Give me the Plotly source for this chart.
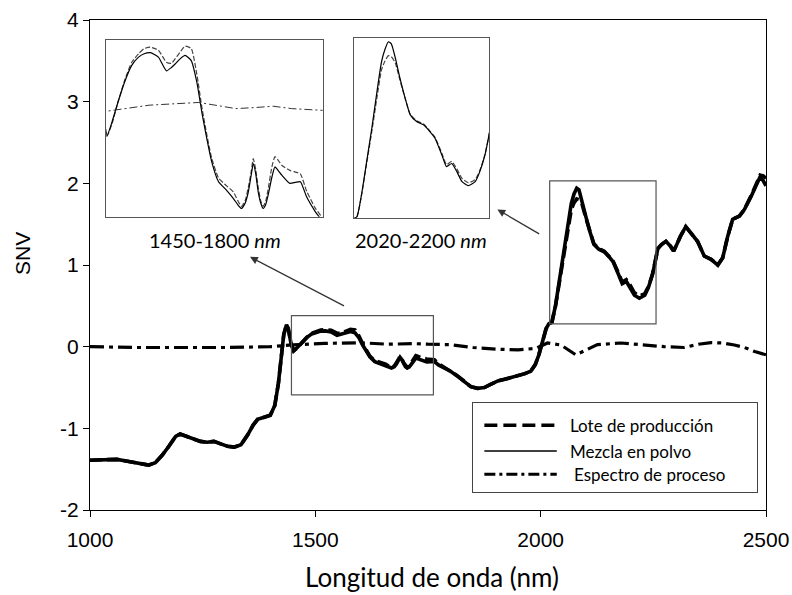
import plotly.graph_objects as go

# NIR spectra after SNV pre-treatment
wavelength = [
    1000, 1020, 1040, 1060, 1080, 1100, 1115, 1130, 1145, 1160,
    1175, 1190, 1200, 1215, 1230, 1245, 1260, 1275, 1290, 1305,
    1320, 1335, 1350, 1362, 1372, 1385, 1400, 1410, 1418, 1424,
    1430, 1436, 1440, 1446, 1452, 1460, 1470, 1481, 1492, 1503,
    1512, 1522, 1535, 1548, 1556, 1562, 1570, 1578, 1588, 1597,
    1605, 1613, 1621, 1632, 1645, 1656, 1663, 1669, 1675, 1680,
    1685, 1688, 1692, 1696, 1700, 1704, 1708, 1712, 1718, 1723,
    1728, 1734, 1747, 1756, 1764, 1774, 1788, 1800, 1815, 1830,
    1845, 1860, 1875, 1890, 1905, 1920, 1935, 1950, 1965, 1978,
    1988, 1996, 2005, 2012, 2018, 2025, 2033, 2042, 2051, 2060,
    2068, 2074, 2080, 2085, 2092, 2100, 2109, 2118, 2129, 2141,
    2152, 2161, 2173, 2181, 2190, 2199, 2208, 2219, 2231, 2239,
    2248, 2254, 2260, 2268, 2278, 2288, 2295, 2302, 2310, 2322,
    2333, 2348, 2363, 2378, 2393, 2404, 2415, 2426, 2441, 2452,
    2467, 2478, 2487, 2494, 2500,
]

mezcla_polvo = [
    -1.39, -1.39, -1.38, -1.38, -1.40, -1.42, -1.44, -1.45, -1.42, -1.33,
    -1.22, -1.10, -1.07, -1.10, -1.14, -1.16, -1.17, -1.16, -1.19, -1.22,
    -1.23, -1.20, -1.08, -0.96, -0.89, -0.87, -0.84, -0.72, -0.45, -0.15,
    0.15, 0.27, 0.22, 0.04, -0.05, -0.01, 0.05, 0.11, 0.156, 0.18,
    0.19, 0.193, 0.18, 0.14, 0.15, 0.16, 0.175, 0.185, 0.17, 0.107,
    0.02, -0.057, -0.125, -0.183, -0.208, -0.232, -0.25, -0.261, -0.245, -0.213,
    -0.16, -0.13, -0.16, -0.213, -0.245, -0.261, -0.25, -0.222, -0.17, -0.14,
    -0.15, -0.164, -0.188, -0.185, -0.183, -0.227, -0.27, -0.30, -0.36, -0.42,
    -0.49, -0.51, -0.50, -0.46, -0.42, -0.40, -0.38, -0.36, -0.33, -0.30,
    -0.22, -0.10, 0.10, 0.22, 0.28, 0.30, 0.506, 0.818, 1.13, 1.474,
    1.755, 1.87, 1.94, 1.92, 1.787, 1.599, 1.412, 1.255, 1.193, 1.162,
    1.099, 1.037, 0.88, 0.771, 0.80, 0.724, 0.63, 0.593, 0.63, 0.724,
    0.88, 1.037, 1.20, 1.25, 1.29, 1.23, 1.17, 1.25, 1.35, 1.47,
    1.40, 1.29, 1.11, 1.07, 1.00, 1.09, 1.35, 1.56, 1.60, 1.68,
    1.84, 1.96, 2.08, 2.03, 1.97,
]

lote_produccion = [
    -1.39, -1.39, -1.38, -1.38, -1.40, -1.42, -1.44, -1.45, -1.42, -1.33,
    -1.22, -1.10, -1.07, -1.10, -1.14, -1.16, -1.17, -1.16, -1.19, -1.22,
    -1.23, -1.20, -1.08, -0.96, -0.89, -0.87, -0.84, -0.72, -0.45, -0.15,
    0.15, 0.27, 0.22, 0.04, -0.05, -0.015, 0.05, 0.115, 0.165, 0.19,
    0.205, 0.209, 0.20, 0.165, 0.162, 0.175, 0.195, 0.212, 0.205, 0.13,
    0.035, -0.045, -0.115, -0.172, -0.195, -0.213, -0.238, -0.255, -0.238, -0.20,
    -0.15, -0.116, -0.148, -0.20, -0.238, -0.255, -0.24, -0.205, -0.14, -0.11,
    -0.12, -0.135, -0.15, -0.155, -0.16, -0.21, -0.26, -0.29, -0.355, -0.42,
    -0.49, -0.51, -0.50, -0.46, -0.42, -0.40, -0.38, -0.36, -0.33, -0.30,
    -0.22, -0.10, 0.10, 0.22, 0.28, 0.30, 0.50, 0.80, 1.10, 1.42,
    1.68, 1.76, 1.81, 1.80, 1.74, 1.58, 1.41, 1.26, 1.20, 1.17,
    1.105, 1.045, 0.895, 0.79, 0.82, 0.75, 0.66, 0.62, 0.65, 0.735,
    0.885, 1.037, 1.20, 1.25, 1.29, 1.23, 1.17, 1.25, 1.35, 1.47,
    1.40, 1.29, 1.11, 1.07, 1.00, 1.09, 1.35, 1.56, 1.60, 1.68,
    1.85, 1.98, 2.10, 2.09, 2.06,
]

proceso_wl = [
    1000, 1100, 1200, 1300, 1400, 1450, 1520, 1600, 1660, 1690,
    1720, 1750, 1800, 1850, 1900, 1950, 1990, 2015, 2045, 2078,
    2100, 2126, 2178, 2230, 2274, 2318, 2350, 2378, 2404, 2430,
    2452, 2475, 2500,
]
espectro_proceso = [
    0.0, -0.01, -0.01, -0.01, 0.0, 0.022, 0.04, 0.048, 0.03, 0.033,
    0.037, 0.03, 0.025, -0.01, -0.03, -0.04, -0.02, 0.045, 0.02, -0.10,
    -0.04, 0.025, 0.045, 0.02, 0.0, -0.01, 0.03, 0.05, 0.045, 0.02,
    -0.01, -0.06, -0.10,
]

series_names = ["Lote de producción", "Mezcla en polvo", "Espectro de proceso"]
x_ticks = [1000, 1500, 2000, 2500]
y_ticks = [-2, -1, 0, 1, 2, 3, 4]

# zoomed windows: (x range, y range, caption)
zoom1 = ([1450, 1800], [-0.285, 0.23], "1450-1800 <i>nm</i>")
zoom2 = ([2020, 2255], [0.29, 1.975], "2020-2200 <i>nm</i>")
# highlighted boxes on the main spectrum
box1 = ([1447, 1762], [-0.59, 0.38])
box2 = ([2020, 2256], [0.28, 2.03])

DASH_LOTE = "12px,5px"
DASH_PROC = "14px,5px,4px,5px"
ARIAL = "Liberation Sans, Arial, sans-serif"
CALIBRI = "Lato, Carlito, Calibri, sans-serif"

fig = go.Figure()

# main panel
fig.add_trace(go.Scatter(x=wavelength, y=mezcla_polvo, mode="lines", name=series_names[1],
                         line=dict(color="black", width=3.6), xaxis="x", yaxis="y"))
fig.add_trace(go.Scatter(x=wavelength, y=lote_produccion, mode="lines", name=series_names[0],
                         line=dict(color="black", width=3.6, dash=DASH_LOTE), xaxis="x", yaxis="y"))
fig.add_trace(go.Scatter(x=proceso_wl, y=espectro_proceso, mode="lines", name=series_names[2],
                         line=dict(color="black", width=3.2, dash=DASH_PROC), xaxis="x", yaxis="y"))

# inset panels reuse the same spectra
for xa, ya in (("x2", "y2"), ("x3", "y3")):
    fig.add_trace(go.Scatter(x=wavelength, y=lote_produccion, mode="lines", showlegend=False,
                             line=dict(color="#444", width=1.2, dash="5px,2px", shape="spline", smoothing=0.5),
                             xaxis=xa, yaxis=ya))
    fig.add_trace(go.Scatter(x=wavelength, y=mezcla_polvo, mode="lines", showlegend=False,
                             line=dict(color="black", width=1.2, shape="spline", smoothing=0.5),
                             xaxis=xa, yaxis=ya))
    fig.add_trace(go.Scatter(x=proceso_wl, y=espectro_proceso, mode="lines", showlegend=False,
                             line=dict(color="#333", width=1, dash="8px,3px,2px,3px"),
                             xaxis=xa, yaxis=ya))

# legend keys drawn on a small unit axis
key_styles = [dict(color="black", width=3.4, dash="13px,6px"),
              dict(color="black", width=1.6),
              dict(color="black", width=3, dash="11px,4px,3px,4px")]
key_rows = [0.25, 0.54, 0.80]
for name, style, row in zip(series_names, key_styles, key_rows):
    fig.add_trace(go.Scatter(x=[0.04, 0.295], y=[row, row], mode="lines", showlegend=False,
                             line=style, xaxis="x4", yaxis="y4", hoverinfo="skip"))

PW, PH = 792, 595
ML, MR, MT, MB = 90, 26, 20, 85
plot_w, plot_h = PW - ML - MR, PH - MT - MB


def px_x(px):
    return (px - ML) / plot_w


def px_y(py):
    return (PH - MB - py) / plot_h


frame = dict(showline=True, mirror=True, linecolor="#555", linewidth=1.3, ticks="",
             showticklabels=False, showgrid=False, zeroline=False, automargin=False)
tick_font = dict(family=ARIAL, size=21, color="black")

fig.update_layout(
    width=PW, height=PH,
    margin=dict(l=ML, r=MR, t=MT, b=MB, autoexpand=False),
    paper_bgcolor="white", plot_bgcolor="white",
    showlegend=False,
    xaxis=dict(range=[1000, 2500], tickvals=x_ticks, ticktext=[str(v) for v in x_ticks],
               ticks="outside", ticklen=6, tickcolor="black", ticklabelstandoff=5,
               showline=True, mirror=True, linecolor="black", linewidth=1, showgrid=False,
               zeroline=False, tickfont=tick_font, automargin=False),
    yaxis=dict(range=[-2, 4], tickvals=y_ticks, ticktext=[str(v) for v in y_ticks],
               ticks="outside", ticklen=6, tickcolor="black",
               showline=True, mirror=True, linecolor="black", linewidth=1, showgrid=False,
               zeroline=False, tickfont=tick_font, automargin=False),
    xaxis2=dict(frame, range=zoom1[0], domain=[px_x(105.7), px_x(322.7)], anchor="y2"),
    yaxis2=dict(frame, range=zoom1[1], domain=[px_y(216.7), px_y(40)], anchor="x2"),
    xaxis3=dict(frame, range=zoom2[0], domain=[px_x(354), px_x(489)], anchor="y3"),
    yaxis3=dict(frame, range=zoom2[1], domain=[px_y(218), px_y(38)], anchor="x3"),
    xaxis4=dict(range=[0, 1], domain=[px_x(473), px_x(757)], anchor="y4", showline=True, mirror=True,
                linecolor="#444", linewidth=1.2, showticklabels=False, showgrid=False, zeroline=False,
                ticks="", automargin=False),
    yaxis4=dict(range=[1, 0], domain=[px_y(492), px_y(403)], anchor="x4", showline=True, mirror=True,
                linecolor="#444", linewidth=1.2, showticklabels=False, showgrid=False, zeroline=False,
                ticks="", automargin=False),
)

for (bx, by) in (box1, box2):
    fig.add_shape(type="rect", xref="x", yref="y", x0=bx[0], x1=bx[1], y0=by[0], y1=by[1],
                  line=dict(color="#555", width=1.2), layer="above")

centered = dict(xref="paper", yref="paper", xanchor="center", yanchor="middle", showarrow=False)
annotations = [
    dict(centered, text="Longitud de onda (nm)", x=px_x(432), y=px_y(577),
         font=dict(family=CALIBRI, size=26, color="black")),
    dict(centered, text="SNV", x=px_x(23), y=px_y(254), textangle=-90,
         font=dict(family=ARIAL, size=21, color="black")),
    dict(centered, text=zoom1[2], x=px_x(215), y=px_y(240),
         font=dict(family=CALIBRI, size=20, color="black")),
    dict(centered, text=zoom2[2], x=px_x(421), y=px_y(240),
         font=dict(family=CALIBRI, size=20, color="black")),
    # arrows from the highlighted boxes to the insets
    dict(x=1355, y=1.10, ax=1567, ay=0.49, xref="x", yref="y", axref="x", ayref="y",
         showarrow=True, arrowhead=2, arrowsize=1.2, arrowwidth=1.3, arrowcolor="#333", text=""),
    dict(x=1904, y=1.68, ax=2000, ay=1.37, xref="x", yref="y", axref="x", ayref="y",
         showarrow=True, arrowhead=2, arrowsize=1.2, arrowwidth=1.3, arrowcolor="#333", text=""),
]
for name, row, xoff in zip(series_names, key_rows, [0.335, 0.335, 0.347]):
    annotations.append(dict(text=name, x=xoff, y=row, xref="x4", yref="y4", xanchor="left",
                            yanchor="middle", showarrow=False,
                            font=dict(family=CALIBRI, size=17, color="black")))
fig.update_layout(annotations=annotations)

fig.write_html("out.html")
